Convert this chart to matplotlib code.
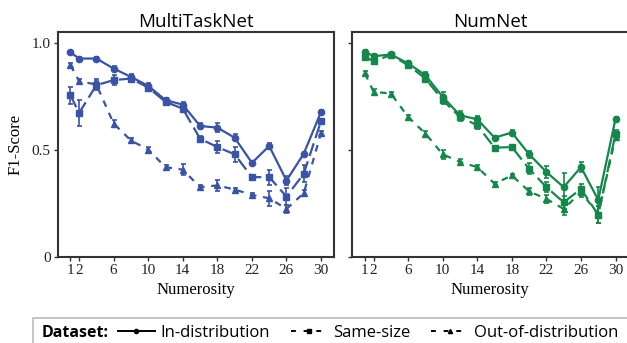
import matplotlib
matplotlib.use("Agg")
import matplotlib.pyplot as plt
from matplotlib.lines import Line2D
from matplotlib.patches import Rectangle

# numerosity values on the x axis
numerosity = [1, 2, 4, 6, 8, 10, 12, 14, 16, 18, 20, 22, 24, 26, 28, 30]
x_ticks = [1, 2, 6, 10, 14, 18, 22, 26, 30]
y_ticks = [0, 0.5, 1.0]
y_tick_labels = ["0", "0.5", "1.0"]

# MultiTaskNet F1 scores
mtn_in = [0.958, 0.929, 0.929, 0.882, 0.843, 0.801, 0.734, 0.713, 0.613, 0.605, 0.558, 0.440, 0.519, 0.357, 0.483, 0.679]
mtn_in_err = [0.008, 0.008, 0.006, 0.012, 0.012, 0.012, 0.010, 0.012, 0.015, 0.020, 0.015, 0.008, 0.015, 0.020, 0.010, 0.008]
mtn_same = [0.757, 0.674, 0.804, 0.828, 0.835, 0.793, 0.726, 0.694, 0.553, 0.514, 0.480, 0.373, 0.373, 0.282, 0.389, 0.636]
mtn_same_err = [0.040, 0.060, 0.020, 0.025, 0.010, 0.010, 0.010, 0.015, 0.015, 0.030, 0.035, 0.005, 0.035, 0.040, 0.040, 0.010]
mtn_ood = [0.898, 0.823, 0.807, 0.624, 0.545, 0.502, 0.420, 0.408, 0.326, 0.334, 0.315, 0.290, 0.274, 0.224, 0.298, 0.580]
mtn_ood_err = [0.010, 0.008, 0.025, 0.015, 0.010, 0.010, 0.008, 0.025, 0.010, 0.025, 0.008, 0.008, 0.035, 0.020, 0.015, 0.008]

# NumNet F1 scores
nn_in = [0.961, 0.940, 0.948, 0.906, 0.851, 0.749, 0.663, 0.644, 0.558, 0.582, 0.480, 0.397, 0.326, 0.420, 0.266, 0.647]
nn_in_err = [0.008, 0.010, 0.006, 0.012, 0.015, 0.025, 0.020, 0.015, 0.008, 0.010, 0.015, 0.030, 0.065, 0.025, 0.060, 0.010]
nn_same = [0.937, 0.917, 0.945, 0.898, 0.835, 0.734, 0.655, 0.616, 0.511, 0.514, 0.412, 0.326, 0.255, 0.318, 0.196, 0.577]
nn_same_err = [0.010, 0.010, 0.006, 0.010, 0.012, 0.020, 0.020, 0.015, 0.010, 0.010, 0.025, 0.025, 0.030, 0.025, 0.040, 0.015]
nn_ood = [0.859, 0.773, 0.765, 0.655, 0.577, 0.480, 0.444, 0.420, 0.342, 0.381, 0.306, 0.271, 0.224, 0.303, 0.200, 0.561]
nn_ood_err = [0.010, 0.012, 0.008, 0.010, 0.012, 0.020, 0.015, 0.012, 0.008, 0.008, 0.015, 0.020, 0.030, 0.025, 0.040, 0.015]

panels = [
    ("MultiTaskNet", "#3a53a4", (mtn_in, mtn_in_err), (mtn_same, mtn_same_err), (mtn_ood, mtn_ood_err)),
    ("NumNet", "#15874a", (nn_in, nn_in_err), (nn_same, nn_same_err), (nn_ood, nn_ood_err)),
]

serif = "Liberation Serif"
sans = "Open Sans"

fig = plt.figure(figsize=(6.27, 3.43), dpi=100)
ax_w = 276.5 / 627
ax_h = 224.4 / 343
ax_b = 1 - 256.7 / 343
lefts = [57.5 / 627, 352 / 627]

for i, (title, color, ind, same, ood) in enumerate(panels):
    ax = fig.add_axes([lefts[i], ax_b, ax_w, ax_h])
    # in-distribution: solid + circles
    ax.errorbar(numerosity, ind[0], yerr=ind[1], color=color, lw=1.6, marker="o", ms=4.5,
                elinewidth=1.2, capsize=1.8, capthick=1.2)
    # same-size: long dashes + squares
    ax.errorbar(numerosity, same[0], yerr=same[1], color=color, lw=1.6, marker="s", ms=4.5,
                elinewidth=1.2, capsize=1.8, capthick=1.2, dashes=(6, 2.5))
    # out-of-distribution: short dashes + triangles
    ax.errorbar(numerosity, ood[0], yerr=ood[1], color=color, lw=1.6, marker="^", ms=4.5,
                elinewidth=1.2, capsize=1.8, capthick=1.2, dashes=(3, 3))

    ax.set_xlim(-0.5, 31.5)
    ax.set_ylim(0, 1.052)
    ax.set_xticks(x_ticks)
    ax.set_yticks(y_ticks)
    if i == 0:
        ax.set_yticklabels(y_tick_labels, fontfamily=serif, fontsize=11, color="#222222")
        ax.set_ylabel("F1-Score", fontfamily=serif, fontsize=12, labelpad=6)
    else:
        ax.set_yticklabels([])
    ax.set_xticklabels([str(t) for t in x_ticks], fontfamily=serif, fontsize=11, color="#222222")
    ax.set_xlabel("Numerosity", fontfamily=serif, fontsize=12, labelpad=4)
    ax.set_title(title, fontfamily=sans, fontsize=13.5, pad=3.5)
    ax.tick_params(length=3, width=1, color="#333333", pad=2)
    for s in ax.spines.values():
        s.set_linewidth(1.5)
        s.set_color("#333333")

# legend strip at the bottom
fig.patches.append(Rectangle((33 / 627, -0.02), 0.97, 1 - 317.5 / 343 + 0.02,
                             transform=fig.transFigure, fill=False,
                             edgecolor="#bbbbbb", lw=1.2))
fig.text(42 / 627, 1 - 333 / 343, "Dataset:", fontfamily=sans, fontweight="bold",
         fontsize=11.5, va="center", ha="left")
handles = [
    Line2D([], [], color="black", lw=1.4, marker="o", ms=3),
    Line2D([], [], color="black", lw=1.4, marker="s", ms=3, dashes=(2.5, 4)),
    Line2D([], [], color="black", lw=1.4, marker="^", ms=3, dashes=(2.5, 4)),
]
labels = ["In-distribution", "Same-size", "Out-of-distribution"]
fig.legend(handles, labels, loc="center left", bbox_to_anchor=(118 / 627, 1 - 333 / 343),
           ncol=3, frameon=False, handlelength=2.2, handletextpad=0.35, columnspacing=1.25,
           prop={"family": sans, "size": 12}, borderpad=0, borderaxespad=0)

fig.savefig("out.png", dpi=100)
